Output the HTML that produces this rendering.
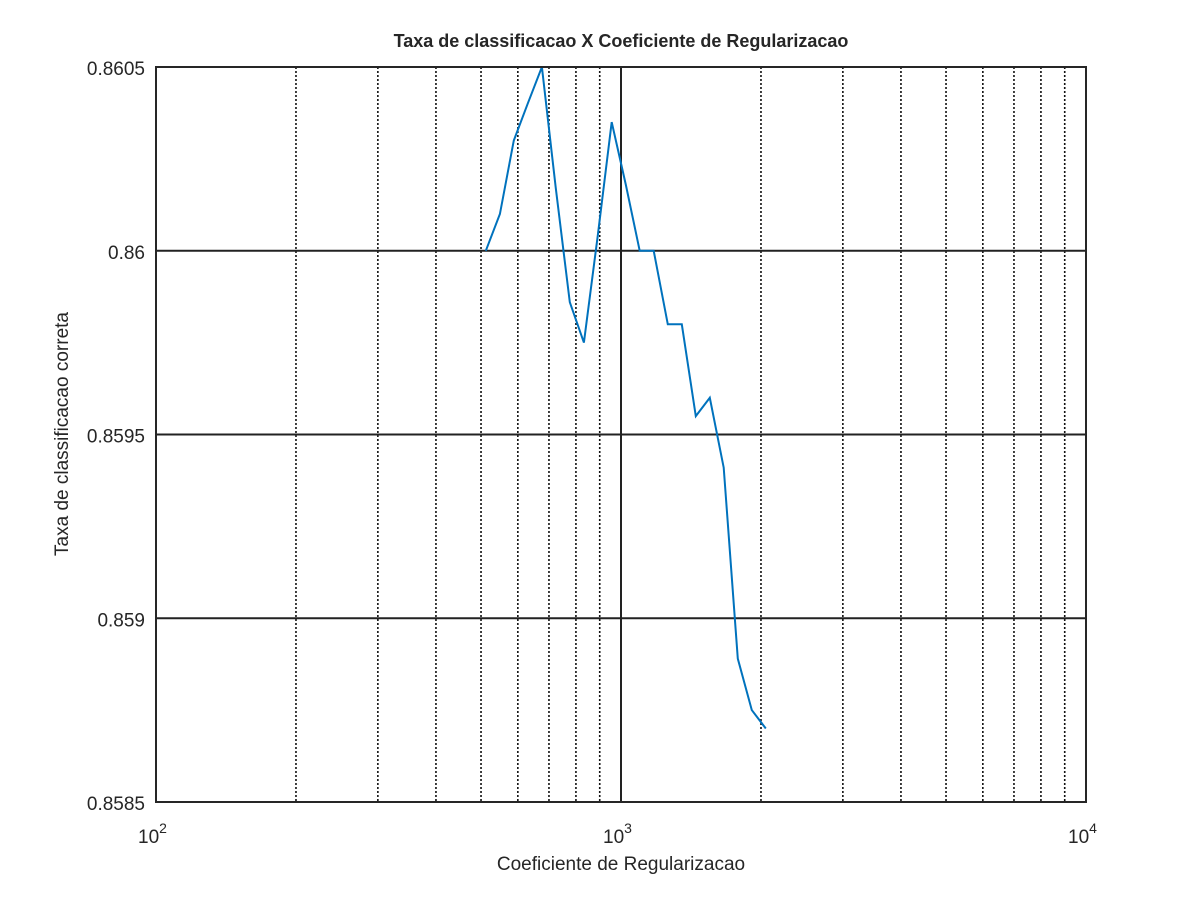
<!DOCTYPE html>
<html><head><meta charset="utf-8"><style>
body{margin:0;background:#fff;}
svg text{font-family:"Liberation Sans",sans-serif;fill:#262626;}
</style></head><body>
<svg width="1200" height="900" id="svg">
<rect width="1200" height="900" fill="#fff"/>
<g id="grid"></g>
<g id="ticks"></g>
<path id="line" fill="none" stroke="#0072bd" stroke-width="2"/>
<rect x="156" y="67" width="930" height="735" fill="none" stroke="#262626" stroke-width="2"/>
<text x="621" y="47" text-anchor="middle" font-size="18" font-weight="bold">Taxa de classificacao X Coeficiente de Regularizacao</text>
<text x="621" y="870" text-anchor="middle" font-size="19">Coeficiente de Regularizacao</text>
<text transform="translate(68,434) rotate(-90)" text-anchor="middle" font-size="19">Taxa de classificacao correta</text>
</svg>
<script>
const xValues=[512,549,588,630,676,724,776,832,891,955,1024,1097,1176,1261,1351,1448,1552,1663,1783,1911,2048];
const yValues=[0.86,0.8601,0.8603,0.8604,0.8605,0.86017,0.85986,0.85975,0.86004,0.86035,0.86018,0.86,0.86,0.8598,0.8598,0.85955,0.8596,0.85941,0.85889,0.85875,0.8587];
const yTicks=[0.8585,0.859,0.8595,0.86,0.8605];
const yTickLabels=["0.8585","0.859","0.8595","0.86","0.8605"];
const xDecades=[2,3,4];
const L=156,R=1086,T=67,B=802;
const xs=v=>L+(R-L)*(Math.log10(v)-2)/2;
const ys=v=>B-(B-T)*(v-0.8585)/0.002;
const NS="http://www.w3.org/2000/svg";
const grid=document.getElementById('grid'),ticks=document.getElementById('ticks');
function ln(p,x1,y1,x2,y2,dash,name){const e=document.createElementNS(NS,'line');
e.setAttribute('x1',x1);e.setAttribute('y1',y1);e.setAttribute('x2',x2);e.setAttribute('y2',y2);
e.setAttribute('stroke',dash?'#111':'#222');e.setAttribute('stroke-width',dash?1.6:2);if(dash)e.setAttribute('stroke-dasharray','2,2');


p.appendChild(e);}
for(let d=2;d<4;d++){for(let m=2;m<=9;m++){const x=xs(m*Math.pow(10,d));ln(grid,x,T,x,B,true,'minor-gridline-x');}}
ln(grid,xs(1000),T,xs(1000),B,false,'major-gridline-x');
yTicks.forEach((v,i)=>{const y=ys(v);ln(grid,L,y,R,y,false,'major-gridline-y');
const t=document.createElementNS(NS,'text');t.setAttribute('x',L-11);t.setAttribute('y',y+8);t.setAttribute('text-anchor','end');t.setAttribute('font-size','19');t.textContent=yTickLabels[i];


ticks.appendChild(t);});
xDecades.forEach(d=>{const x=xs(Math.pow(10,d));const t=document.createElementNS(NS,'text');t.setAttribute('x',x-18);t.setAttribute('y',843);t.setAttribute('font-size','19');
t.innerHTML='10<tspan font-size="14" dy="-10">'+d+'</tspan>';


ticks.appendChild(t);});
document.getElementById('line').setAttribute('d',xValues.map((v,i)=>(i?'L':'M')+xs(v).toFixed(1)+','+ys(yValues[i]).toFixed(1)).join(''));
</script>
</body></html>
